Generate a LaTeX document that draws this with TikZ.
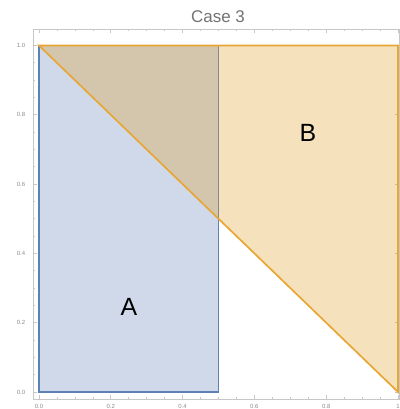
\documentclass[tikz,border=0pt]{standalone}
\usepackage{fontspec}
\setmainfont{Liberation Sans}
\begin{document}
\begin{tikzpicture}[x=1bp,y=-1bp,
  framecol/.style={draw=black!22, line width=0.7bp},
  ticklab/.style={text=black!45, font=\fontsize{6}{7}\selectfont, inner sep=0pt},
  regA/.style={fill={rgb,255:red,207;green,217;blue,233}, draw={rgb,255:red,94;green,129;blue,181}, line width=1.7bp, line join=miter},
  regB/.style={fill={rgb,255:red,225;green,156;blue,36}, fill opacity=0.3, draw={rgb,255:red,232;green,166;blue,52}, draw opacity=1, line width=1.7bp, line join=miter},
  biglab/.style={font=\fontsize{25}{28}\selectfont, inner sep=0pt}]
\useasboundingbox (0,0) rectangle (400,409);
\fill[white] (0,0) rectangle (400,409);
% frame
\draw[framecol] (33,29) rectangle (399,399);
\node[text=black!55, font=\fontsize{17}{20}\selectfont, inner sep=0pt] (title) at (218,17) {Case 3};
% ticks
\foreach \i in {0,...,20}{
  \pgfmathsetmacro{\px}{39+359*\i/20}
  \pgfmathsetmacro{\py}{392-346.5*\i/20}
  \pgfmathtruncatemacro{\ismaj}{mod(\i,4)==0 ? 1 : 0}
  \ifnum\ismaj=1
    \draw[framecol] (\px,399) -- ++(0,-4);
    \draw[framecol] (\px,29) -- ++(0,4);
    \draw[framecol] (33,\py) -- ++(4,0);
    \draw[framecol] (399,\py) -- ++(-4,0);
  \else
    \draw[framecol] (\px,399) -- ++(0,-2);
    \draw[framecol] (\px,29) -- ++(0,2);
    \draw[framecol] (33,\py) -- ++(2,0);
    \draw[framecol] (399,\py) -- ++(-2,0);
  \fi
}
\foreach \v/\t in {0/0.0,1/0.2,2/0.4,3/0.6,4/0.8}{
  \node[ticklab] (yl\v) at (21,{392-346.5*\v/5}) {\t};
  \node[ticklab] (xl\v) at ({39+359*\v/5},406) {\t};
}
\node[ticklab] (yl5) at (21,45.5) {1.0};
\node[ticklab] (xl5) at (398,406) {1};
% data region
\begin{scope}[shift={(39,392)}]
\begin{scope}[x=359bp,y=346.5bp]
  \draw[regA] (0,0) rectangle (0.5,1);
  \draw[regB] (0,1) -- (1,1) -- (1,0) -- cycle;
\end{scope}
\end{scope}
\node[biglab] (A) at (129,307) {A};
\node[biglab] (B) at (308,133) {B};
\end{tikzpicture}
\end{document}
